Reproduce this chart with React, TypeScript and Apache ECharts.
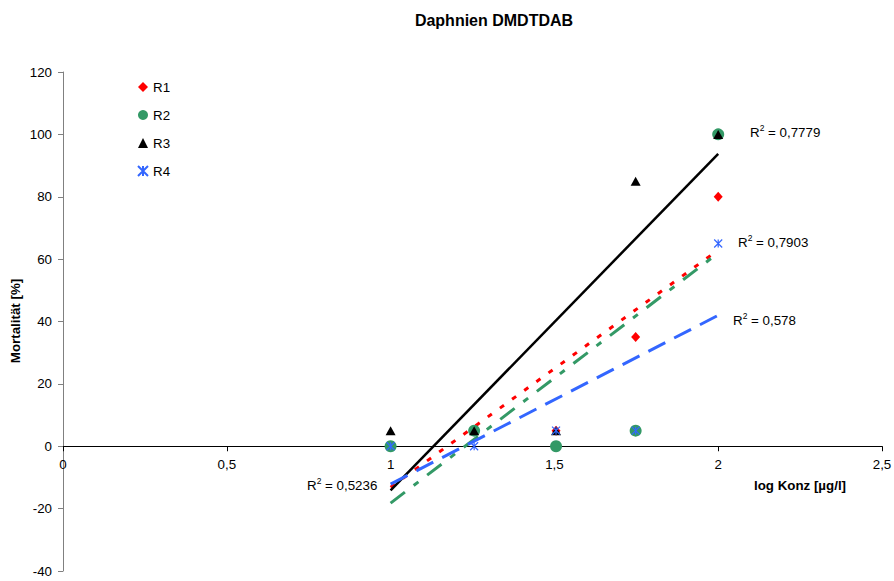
import React, { useEffect, useRef } from "react";
import * as echarts from "echarts";

const xValues = [1, 1.255, 1.505, 1.748, 2];
const r1 = [0, 5, 5, 35, 80];
const r2 = [0, 5, 0, 5, 100];
const r3 = [5, 5, 5, 85, 100];
const r4 = [0, 0, 5, 5, 65];
const seriesNames = ["R1", "R2", "R3", "R4"];
const r2Labels = [" = 0,7779", " = 0,7903", " = 0,578", " = 0,5236"];

const FONT = "'Liberation Sans', Arial, sans-serif";
const FS = 13.33;
const ASTERISK = "path://M0,0 L10,10 M10,0 L0,10 M5,0 L5,10";

const GRID_TOP = 72;
const GRID_BOTTOM = 10;
const CHART_H = 581;
const Y_MIN = -40;
const Y_MAX = 120;

function fit(ys: number[]) {
  const n = xValues.length;
  const mx = xValues.reduce((a, b) => a + b, 0) / n;
  const my = ys.reduce((a, b) => a + b, 0) / n;
  let sxy = 0, sxx = 0;
  for (let i = 0; i < n; i++) {
    sxy += (xValues[i] - mx) * (ys[i] - my);
    sxx += (xValues[i] - mx) ** 2;
  }
  const b = sxy / sxx;
  const a = my - b * mx;
  const x0 = xValues[0], x1 = xValues[n - 1];
  return [[x0, a + b * x0], [x1, a + b * x1]];
}

const pts = (ys: number[]) => xValues.map((x, i) => [x, ys[i]]);

function r2Text(x: number, y: number, val: string) {
  return {
    type: "text",
    x,
    y,
    style: {
      text: `{a|R}{s|2}{a|${val}}`,
      fill: "#000",
      font: `${FS}px ${FONT}`,
      verticalAlign: "middle",
      rich: {
        a: { fontSize: FS, fontFamily: FONT, lineHeight: 16, verticalAlign: "bottom", fill: "#000" },
        s: { fontSize: 8.5, fontFamily: FONT, lineHeight: 16, verticalAlign: "top", fill: "#000" },
      },
    },
  };
}

export default function App() {
  const ref = useRef<HTMLDivElement>(null);
  useEffect(() => {
    document.body.style.margin = "0";
    const chart = echarts.init(ref.current!, undefined, { renderer: "svg" });
    const plotH = CHART_H - GRID_TOP - GRID_BOTTOM;
    const zeroFromBottom = (plotH * (0 - Y_MIN)) / (Y_MAX - Y_MIN);
    const trend = (name: string, ys: number[], color: string, type: any, width = 3) => ({
      name: name + "-trend",
      type: "line",
      data: fit(ys),
      symbol: "none",
      lineStyle: { color, type, width, cap: "butt" },
      z: 1,
      silent: true,
    });
    chart.setOption({
      animation: false,
      grid: {
        left: 63,
        right: 12,
        top: GRID_TOP,
        bottom: GRID_BOTTOM,
        containLabel: false,
        outerBoundsMode: "none",
      },
      legend: {
        data: seriesNames,
        orient: "vertical",
        left: 137,
        top: 80,
        padding: 0,
        itemWidth: 10,
        itemHeight: 10,
        itemGap: 14,
        textStyle: { fontFamily: FONT, fontSize: FS, color: "#000", lineHeight: 14 },
      },
      xAxis: {
        type: "value",
        min: 0,
        max: 2.5,
        interval: 0.5,
        position: "bottom",
        offset: -zeroFromBottom,
        axisLine: { onZero: false, lineStyle: { color: "#000", width: 1 } },
        axisTick: { show: true, length: 5, lineStyle: { color: "#000" } },
        axisLabel: {
          margin: 12,
          fontFamily: FONT,
          fontSize: FS,
          color: "#000",
          formatter: (v: number) => String(v).replace(".", ","),
        },
        splitLine: { show: false },
      },
      yAxis: {
        type: "value",
        min: Y_MIN,
        max: Y_MAX,
        interval: 20,
        axisLine: { show: true, onZero: false, lineStyle: { color: "#808080", width: 1 } },
        axisTick: { show: true, length: 5, lineStyle: { color: "#808080" } },
        axisLabel: { margin: 11, fontFamily: FONT, fontSize: FS, color: "#000" },
        splitLine: { show: false },
      },
      series: [
        trend("R1", r1, "#FF0000", [5, 10]),
        trend("R2", r2, "#339966", [18, 11, 6, 11]),
        trend("R3", r3, "#000000", "solid", 2.5),
        trend("R4", r4, "#3366FF", [19, 10]),
        { name: "R1", type: "scatter", data: pts(r1), symbol: "diamond", symbolSize: [9, 10], itemStyle: { color: "#FF0000", opacity: 1 }, z: 3 },
        { name: "R2", type: "scatter", data: pts(r2), symbol: "circle", symbolSize: 12, itemStyle: { color: "#339966", opacity: 1 }, z: 3 },
        { name: "R3", type: "scatter", data: pts(r3), symbol: "triangle", symbolSize: [10, 9], itemStyle: { color: "#000000", opacity: 1 }, z: 3 },
        {
          name: "R4",
          type: "scatter",
          data: pts(r4),
          symbol: ASTERISK,
          symbolSize: 8,
          itemStyle: { color: "#3366FF", borderColor: "#3366FF", borderWidth: 1.2, opacity: 1 },
          z: 3,
        },
      ],
      graphic: [
        {
          type: "text",
          x: 494,
          y: 20,
          style: { text: "Daphnien DMDTDAB", font: `bold 16px ${FONT}`, fill: "#000", align: "center", verticalAlign: "middle" },
        },
        {
          type: "text",
          x: 15,
          y: 321,
          rotation: Math.PI / 2,
          style: { text: "Mortalität [%]", font: `bold ${FS}px ${FONT}`, fill: "#000", align: "center", verticalAlign: "middle" },
        },
        {
          type: "text",
          x: 800,
          y: 485,
          style: { text: "log Konz [µg/l]", font: `bold ${FS}px ${FONT}`, fill: "#000", align: "center", verticalAlign: "middle" },
        },
        r2Text(750, 131, r2Labels[0]),
        r2Text(738, 241, r2Labels[1]),
        r2Text(733, 319, r2Labels[2]),
        r2Text(307, 484, r2Labels[3]),
      ],
    });
    return () => chart.dispose();
  }, []);
  return <div ref={ref} style={{ width: 894, height: 581 }} />;
}
